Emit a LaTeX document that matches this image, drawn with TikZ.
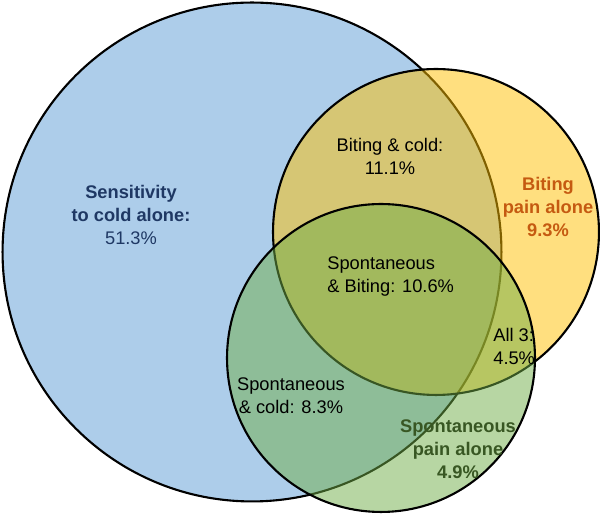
\documentclass[tikz,border=0pt]{standalone}
\usepackage{fontspec}
\setmainfont{Liberation Sans}
\usetikzlibrary{positioning}

\definecolor{coldblue}{HTML}{5B9BD5}
\definecolor{bitegold}{HTML}{FFC000}
\definecolor{spongreen}{HTML}{70AD47}
\definecolor{coldtext}{HTML}{1F3864}
\definecolor{bitetext}{HTML}{C55A11}
\definecolor{spontext}{HTML}{385723}

\begin{document}
\begin{tikzpicture}[
    x=0.02cm, y=-0.02cm,
    region/.style={circle, draw=black, line width=1.2pt, fill opacity=0.5, draw opacity=1, inner sep=0pt},
    label/.style={font=\fontsize{10.4}{13.1}\selectfont, align=center, inner sep=0pt},
    alone/.style={label, font=\fontsize{10.4}{13.1}\selectfont\bfseries}
]
\useasboundingbox (0,0) rectangle (600,516);

% =================== SETS ===================
\node[region, fill=coldblue, minimum size=9.98cm] (cold) at (252,252) {};
\node[region, fill=bitegold, minimum size=6.52cm] (bite) at (436,232) {};
\node[region, fill=spongreen, minimum size=6.16cm] (spon) at (381,358) {};

% =================== SINGLE SETS ===================
\node[alone, text=coldtext] (coldlbl) at (131,215)
    {Sensitivity\\to cold alone:\\\mdseries 51.3\%};
\node[alone, text=bitetext] (bitelbl) at (548,207)
    {Biting\\pain alone\\9.3\%};
\node[alone, text=spontext] (sponlbl) at (458,449)
    {Spontaneous\\pain alone\\4.9\%};

% =================== OVERLAPS ===================
\node[label] (bitecold) at (390,156) {Biting \& cold:\\11.1\%};
\node[label, align=left, anchor=west] (sponbite) at (327,277)
    {Spontaneous\\\& Biting: 10.6\%};
\node[label] (sponcold) at (291,396) {Spontaneous\\\& cold: 8.3\%};
\node[label, align=left, anchor=west] (allthree) at (493,346) {All 3:\\4.5\%};

\end{tikzpicture}
\end{document}
